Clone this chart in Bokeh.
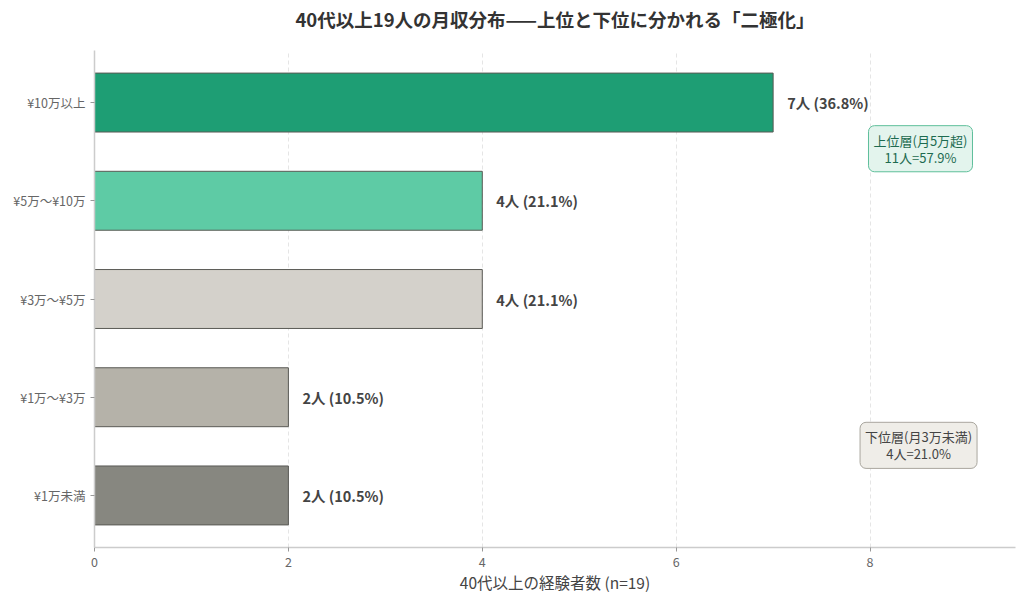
from bokeh.plotting import figure
from bokeh.models import FactorRange, Range1d, FixedTicker, Label, ColumnDataSource, LabelSet, Title
from bokeh.core.properties import value
from bokeh.embed import file_html
from bokeh.resources import INLINE

categories = ["¥1万未満", "¥1万〜¥3万", "¥3万〜¥5万", "¥5万〜¥10万", "¥10万以上"]
counts = [2, 2, 4, 4, 7]
percents = [10.5, 10.5, 21.1, 21.1, 36.8]
colors = ["#878780", "#b5b2a9", "#d4d1cb", "#5ecba5", "#1e9e74"]
x_ticks = [0, 2, 4, 6, 8]
title_text = "40代以上19人の月収分布——上位と下位に分かれる「二極化」"
x_label = "40代以上の経験者数 (n=19)"
upper_note = "上位層(月5万超)\n11人=57.9%"
lower_note = "下位層(月3万未満)\n4人=21.0%"

FONT = "Noto Sans CJK JP"

labels = [f"{c}人 ({p:.1f}%)" for c, p in zip(counts, percents)]
src = ColumnDataSource(dict(cat=categories, n=counts, color=colors, lab=labels))

p = figure(width=1016, height=595, output_backend="svg", toolbar_location=None, title=None,
           y_range=FactorRange(factors=categories, range_padding=0.012),
           x_range=Range1d(0, 9.5),
           min_border_left=94, min_border_right=1, min_border_top=50, min_border_bottom=46)

# spacer between frame and title, then the title itself (further from the frame)
p.add_layout(Title(text=" ", text_font=FONT, text_font_size="12px", standoff=0), "above")
p.add_layout(Title(text=title_text, align="center", text_font=FONT, text_font_size="18.5px",
                   text_font_style="bold", text_color="#333333", standoff=0), "above")

p.hbar(y="cat", right="n", left=0, height=0.6, source=src, fill_color="color",
       line_color="#5a5a55", line_width=1)

p.add_layout(LabelSet(x="n", y="cat", text="lab", source=src, x_offset=14, y_offset=0,
                      text_baseline="middle", text_font=value(FONT), text_font_size=value("14.5px"),
                      text_font_style=value("bold"), text_color=value("#444444")))

p.xaxis.ticker = FixedTicker(ticks=x_ticks)
p.xaxis.axis_label = x_label
for ax in (p.xaxis, p.yaxis):
    ax.axis_line_color = "#cccccc"
    ax.axis_line_width = 1.5
    ax.major_tick_line_color = "#999999"
    ax.major_tick_in = 0
    ax.major_tick_out = 4
    ax.minor_tick_line_color = None
    ax.major_label_text_font = FONT
    ax.major_label_text_font_size = "12.5px"
    ax.major_label_text_color = "#666666"
p.xaxis.axis_label_text_font = FONT
p.xaxis.axis_label_text_font_size = "15.5px"
p.xaxis.axis_label_text_font_style = "normal"
p.xaxis.axis_label_text_color = "#444444"
p.xaxis.axis_label_standoff = 1

p.ygrid.grid_line_color = None
p.xgrid.ticker = FixedTicker(ticks=x_ticks)
p.xgrid.grid_line_color = "#e5e5e5"
p.xgrid.grid_line_dash = "4 3"
p.outline_line_color = None

up = Label(x=8.52, y=3.53 + 0.5, text=upper_note, text_align="center", text_baseline="middle",
           text_font=FONT, text_font_size="13px", text_color="#1d6b50", text_line_height=0.9,
           background_fill_color="#e3f4ed", border_line_color="#5fbf9b", border_line_width=1,
           padding=5, border_radius=6)
lo = Label(x=8.5, y=0.51 + 0.5, text=lower_note, text_align="center", text_baseline="middle",
           text_font=FONT, text_font_size="13px", text_color="#444444", text_line_height=0.9,
           background_fill_color="#efede8", border_line_color="#a9a69e", border_line_width=1,
           padding=5, border_radius=6)
p.add_layout(up)
p.add_layout(lo)

open("out.html", "w").write(file_html(p, INLINE))
